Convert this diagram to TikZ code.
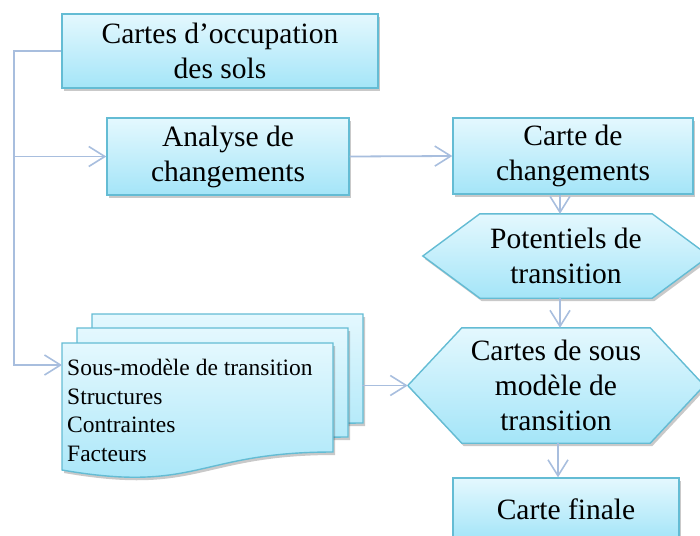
\documentclass[tikz,border=0pt]{standalone}
\usepackage{fontspec}
\setmainfont{Liberation Serif}
\usetikzlibrary{arrows.meta,shadows,calc}
\pgfdeclarelayer{background}
\pgfsetlayers{background,main}
\definecolor{fillTop}{RGB}{228,248,254}
\definecolor{fillBot}{RGB}{164,229,248}
\definecolor{edgeCol}{RGB}{100,188,212}
\definecolor{connCol}{RGB}{168,190,222}
\tikzset{
  boxfill/.style={top color=fillTop, bottom color=fillBot, draw=edgeCol, line width=1.4pt,
    drop shadow={shadow xshift=2pt, shadow yshift=-3pt, opacity=0.3, fill=black!70}},
  boxnode/.style={boxfill, inner sep=0pt, align=center, font=\fontsize{29.5}{35}\selectfont},
  hexnode/.style={inner sep=0pt, align=center, font=\fontsize{29.5}{35}\selectfont},
  conn/.style={draw=connCol, line width=1.8pt, -{Straight Barb[length=16pt,width=20pt,line width=1.6pt]}},
  plain/.style={draw=connCol, line width=1.8pt}
}
\begin{document}
\begin{tikzpicture}[x=1pt,y=-1pt]
\useasboundingbox (0,0) rectangle (700,535);
\clip (0,0) rectangle (700,535);
% boxes
\node[boxnode, minimum width=316pt, minimum height=74pt] (occ) at (220,51) {Cartes d’occupation\\des sols};
\node[boxnode, minimum width=242pt, minimum height=77pt] (ana) at (228,156.5) {Analyse de\\changements};
\node[boxnode, minimum width=240pt, minimum height=76pt] (chg) at (573,156) {Carte de\\changements};
\node[boxnode, minimum width=226pt, minimum height=62pt] (fin) at (566,509) {Carte finale};
% hexagons
\node[hexnode, minimum width=172pt, minimum height=84pt] (pot) at (566,256) {Potentiels de\\transition};
\node[hexnode, minimum width=188pt, minimum height=115pt] (sub) at (556,385.5) {Cartes de sous\\modèle de\\transition};
\coordinate (subtip) at ([xshift=-54pt]sub.west);
% document stack text
\node[anchor=base west, inner sep=0pt, align=left, font=\fontsize{23.5}{28.5}\selectfont] (doc) at (67,461)
  {Sous-modèle de transition\\Structures\\Contraintes\\Facteurs};
\coordinate (docin) at (62,365);
\coordinate (docout) at (362,385.5);
\coordinate (jn) at (14,156.5);
\begin{pgfonlayer}{background}
  \path[boxfill] (pot.north west) -- (pot.north east) -- ([xshift=57pt]pot.east) -- (pot.south east)
    -- (pot.south west) -- ([xshift=-57pt]pot.west) -- cycle;
  \path[boxfill] (sub.north west) -- (sub.north east) -- ([xshift=54pt]sub.east) -- (sub.south east)
    -- (sub.south west) -- (subtip) -- cycle;
  \foreach \dx/\dy in {30/-29,15/-15,0/0}{
    \path[boxfill, shift={(\dx,\dy)}] (62,343) -- (333,343) -- (333,452)
      .. controls (197.5,452) and (197.5,493.6) .. (62,470) -- cycle;
  }
\end{pgfonlayer}
% connectors
\draw[plain] (occ.west) -- (jn |- occ.west) -- (jn);
\draw[conn] (jn) |- (docin);
\draw[conn] (jn) -- (ana.west);
\draw[conn] (ana.east) -- (chg.west);
\draw[conn] ([xshift=-13pt]chg.south) -- ([xshift=-6pt]pot.north);
\draw[conn] ([xshift=-6pt]pot.south) -- ([xshift=4pt]sub.north);
\draw[conn] (docout) -- (subtip);
\draw[conn] ([xshift=2pt]sub.south) -- ([xshift=-8pt]fin.north);
\end{tikzpicture}
\end{document}
